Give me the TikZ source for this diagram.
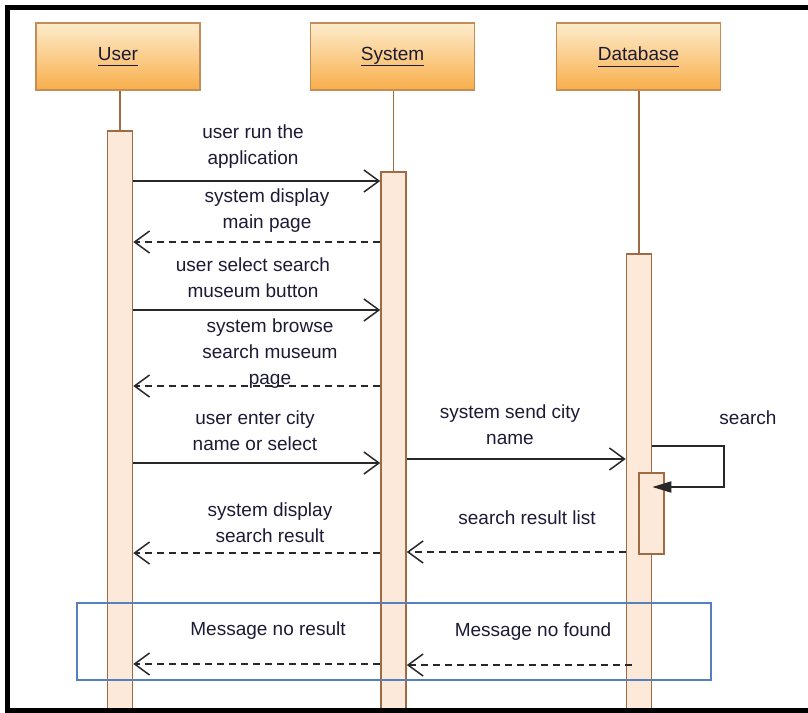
\documentclass[tikz,border=0pt]{standalone}
\usepackage{fontspec}
\setmainfont{Liberation Sans}
\usetikzlibrary{arrows.meta}
\definecolor{hdrtop}{RGB}{253,236,204}
\definecolor{hdrbot}{RGB}{248,174,74}
\definecolor{hdrline}{RGB}{196,140,86}
\definecolor{barfill}{RGB}{253,233,217}
\definecolor{barline}{RGB}{160,106,66}
\definecolor{txt}{RGB}{28,26,52}
\definecolor{msgline}{RGB}{40,40,40}
\definecolor{fragblue}{RGB}{84,128,188}

\begin{document}
\begin{tikzpicture}[x=1pt,y=-1pt,line cap=butt,line join=miter,
  every node/.style={inner sep=1pt,text=txt,font=\fontsize{19}{26}\selectfont},
  head/.style={draw=hdrline,line width=1.5pt,top color=hdrtop,bottom color=hdrbot,
    minimum width=164,minimum height=67},
  bar/.style={draw=barline,line width=1.6pt,fill=barfill,minimum width=25,anchor=north},
  life/.style={draw=barline,line width=1.6pt},
  call/.style={draw=msgline,line width=2pt,-{Straight Barb[length=15pt,width=22pt,line width=1.5pt]}},
  reply/.style={call,dash pattern=on 7pt off 5pt},
  lbl/.style={align=center}]
  \useasboundingbox (0,0) rectangle (808,712);

  % lifeline heads
  \node[head] (user) at (118,56.5) {\underline{User\vphantom{y}}};
  \node[head] (sys) at (392.5,56.5) {\underline{System}};
  \node[head] (db) at (638.5,56.5) {\underline{Database\vphantom{y}}};

  % activation bars
  \node[bar,minimum height=600] (ubar) at (120,130) {};
  \node[bar,minimum height=560] (sbar) at (393.5,171) {};
  \node[bar,minimum height=480] (dbar) at (639,253) {};
  \node[bar,minimum height=81] (nbar) at (651.5,472) {};
  \draw[life] (user.south -| ubar.north) -- (ubar.north);
  \draw[life] (sys.south -| sbar.north) -- (sbar.north);
  \draw[life] (db.south -| dbar.north) -- (dbar.north);

  % messages
  \draw[call] (ubar.east |- 0,181) -- (sbar.west |- 0,181);
  \node[lbl] (m1) at (253,147) {user run the\\application};
  \draw[reply] (sbar.west |- 0,242) -- (ubar.east |- 0,242);
  \node[lbl] (m2) at (267,211) {system display\\main page};
  \draw[call] (ubar.east |- 0,310) -- (sbar.west |- 0,310);
  \node[lbl] (m3) at (253,278) {user select search\\museum button};
  \draw[reply] (sbar.west |- 0,386) -- (ubar.east |- 0,386);
  \node[lbl] (m4) at (270,354) {system browse\\search museum\\page};
  \draw[call] (ubar.east |- 0,463) -- (sbar.west |- 0,463);
  \node[lbl] (m5) at (255,431) {user enter city\\name or select};
  \draw[call] (sbar.east |- 0,459) -- (dbar.west |- 0,459);
  \node[lbl] (m6) at (510,425) {system send city\\name};

  % self call
  \coordinate (loop) at (724,487);
  \draw[draw=msgline,line width=2pt,-{Triangle[length=19pt,width=11pt]}]
    (dbar.east |- 0,446) -| (loop) -- (dbar.east |- loop);
  \node (srch) at (748,418) {search};

  \draw[reply] (sbar.west |- 0,553) -- (ubar.east |- 0,553);
  \node[lbl] (m7) at (270,523) {system display\\search result};
  \draw[reply] (dbar.west |- 0,552) -- (sbar.east |- 0,552);
  \node (m8) at (527,518) {search result list};

  % no result fragment
  \draw[fragblue,line width=1.6pt] (77,603) rectangle (711,680);
  \draw[reply] (sbar.west |- 0,664) -- (ubar.east |- 0,664);
  \node (m9) at (268,631) {Message no result};
  \draw[reply] ([xshift=6pt]dbar.west |- 0,665) -- (sbar.east |- 0,665);
  \node (m10) at (533,632) {Message no found};

  % frame
  \draw[black,line width=5pt] (7.5,7.5) rectangle (830,710.5);
\end{tikzpicture}
\end{document}
